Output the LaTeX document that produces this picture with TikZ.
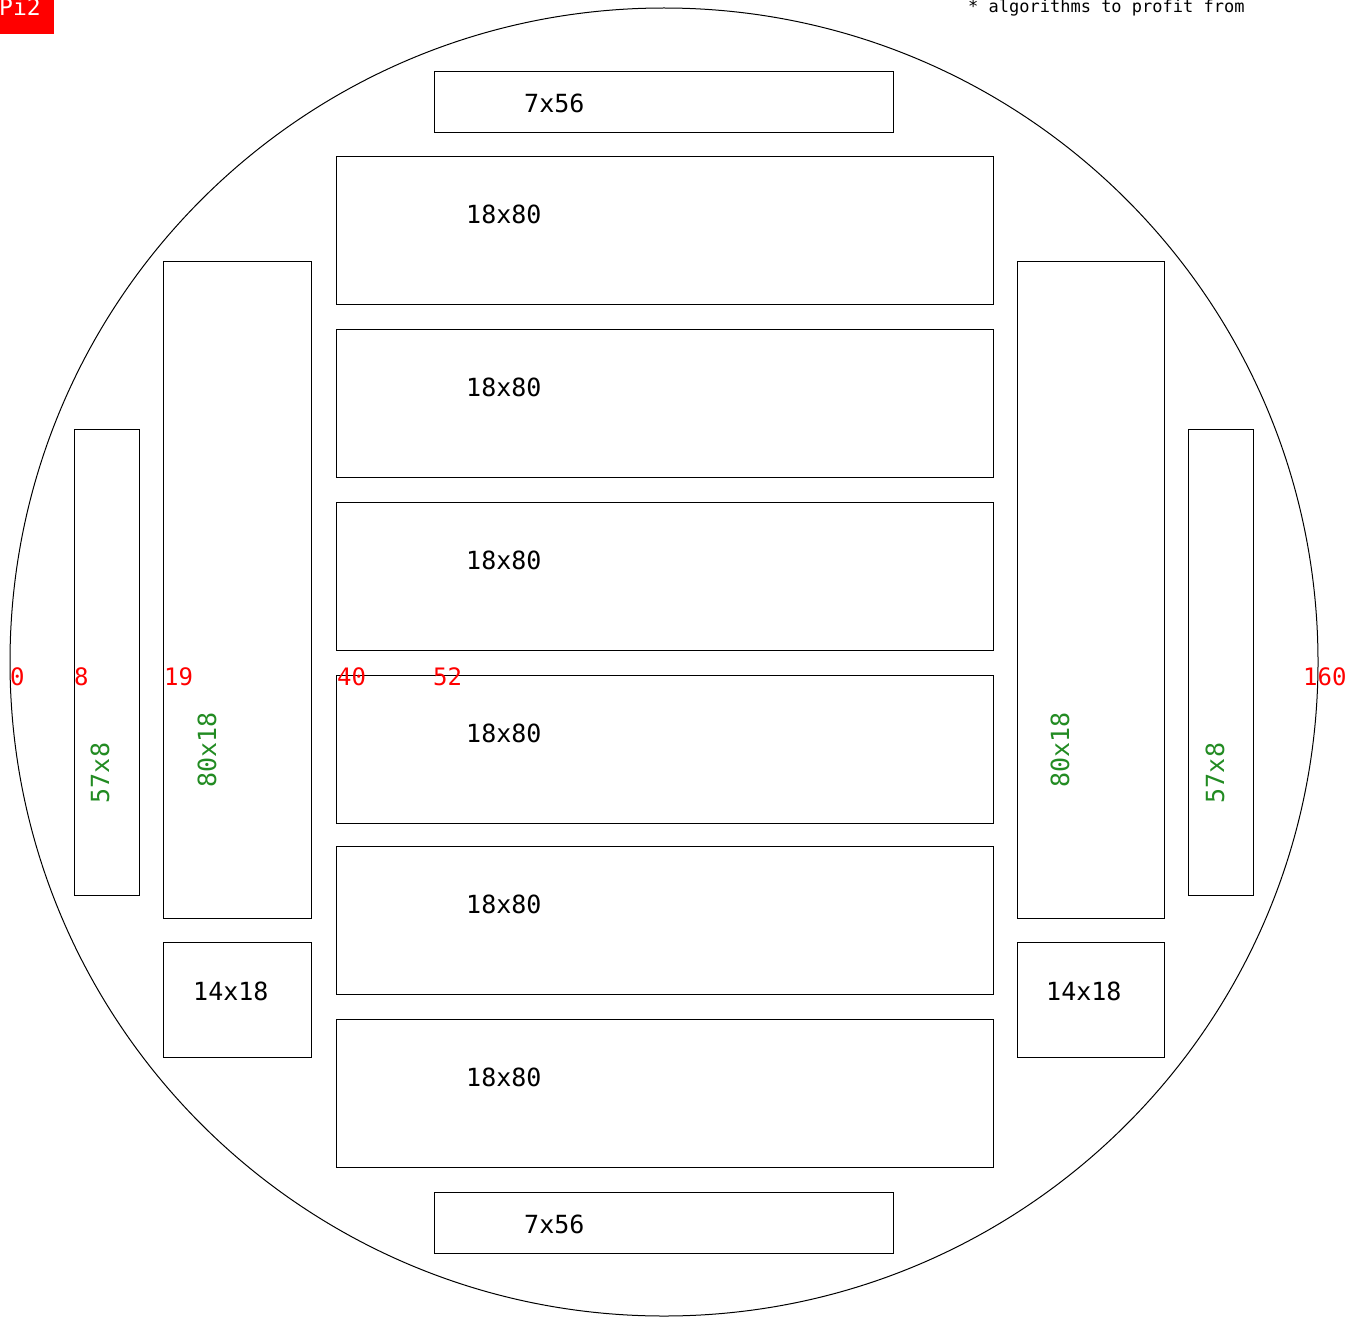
\documentclass[tikz,border=0pt]{standalone}
\usepackage{fontspec}
\setmonofont{DejaVu Sans Mono}
\usepackage{xcolor}
\usetikzlibrary{positioning, calc}
\definecolor{tickred}{RGB}{255,0,0}
\definecolor{cutgreen}{RGB}{34,139,34}
\tikzset{
  waferbox/.style={
    draw, line width=1.1pt, anchor=north west, inner sep=0pt
  },
  sizelabel/.style={
    anchor=west, inner sep=0pt, font=\ttfamily\fontsize{25}{25}\selectfont
  },
  cutlabel/.style={
    rotate=90, inner sep=0pt, text=cutgreen,
    font=\ttfamily\fontsize{25}{25}\selectfont
  },
  ticklabel/.style={
    anchor=west, inner sep=0pt, text=tickred,
    font=\ttfamily\fontsize{24}{24}\selectfont
  },
}

\begin{document}
\begin{tikzpicture}[x=1pt, y=-1pt]
  \useasboundingbox (0,0) rectangle (1364,1316);
  \clip (0,0) rectangle (1364,1316);

  % === Wafer outline ===
  \draw[line width=1pt] (664,662) circle[radius=654pt];

  % === Header ===
  \fill[tickred] (0,0) rectangle (54,34);
  \node[anchor=base west, inner sep=0pt, text=white,
    font=\ttfamily\fontsize{23}{23}\selectfont] (tag) at (-1,16) {Pi2};
  \node[anchor=base west, inner sep=0pt,
    font=\ttfamily\fontsize{17}{17}\selectfont] (note) at (968,13) {* algorithms to profit from};

  % === Top and bottom strips ===
  \node[waferbox, minimum width=459, minimum height=61] (striptop) at (434,71) {};
  \node[sizelabel] (striptoplbl) at ($(striptop.north west)+(90,32)$) {7x56};
  \node[waferbox, minimum width=459, minimum height=61] (stripbot) at (434,1192) {};
  \node[sizelabel] (stripbotlbl) at ($(stripbot.north west)+(90,32)$) {7x56};

  % === Central dies ===
  \foreach \i/\y in {1/156, 2/329, 3/502, 4/675, 5/846, 6/1019} {
    \node[waferbox, minimum width=657, minimum height=148] (die\i) at (336,\y) {};
    \node[sizelabel] (die\i lbl) at ($(die\i.north west)+(130,58)$) {18x80};
  }

  % === Left column ===
  \node[waferbox, minimum width=148, minimum height=657] (lcol) at (163,261) {};
  \node[cutlabel] (lcollbl) at ($(lcol.north west)+(44,489)$) {80x18};
  \node[waferbox, minimum width=148, minimum height=115] (lsq) at (163,942) {};
  \node[sizelabel] (lsqlbl) at ($(lsq.north west)+(30,49)$) {14x18};
  \node[waferbox, minimum width=65, minimum height=466] (lbar) at (74,429) {};
  \node[cutlabel] (lbarlbl) at ($(lbar.north west)+(26,344)$) {57x8};

  % === Right column ===
  \node[waferbox, minimum width=147, minimum height=657] (rcol) at (1017,261) {};
  \node[cutlabel] (rcollbl) at ($(rcol.north west)+(43,489)$) {80x18};
  \node[waferbox, minimum width=147, minimum height=115] (rsq) at (1017,942) {};
  \node[sizelabel] (rsqlbl) at ($(rsq.north west)+(29,49)$) {14x18};
  \node[waferbox, minimum width=65, minimum height=466] (rbar) at (1188,429) {};
  \node[cutlabel] (rbarlbl) at ($(rbar.north west)+(27,344)$) {57x8};

  % === Ruler marks ===
  \foreach \t/\x in {0/10, 8/74, 19/164, 40/337, 52/433, 160/1303} {
    \node[ticklabel] (tick\t) at (\x,677) {\t};
  }
\end{tikzpicture}
\end{document}
